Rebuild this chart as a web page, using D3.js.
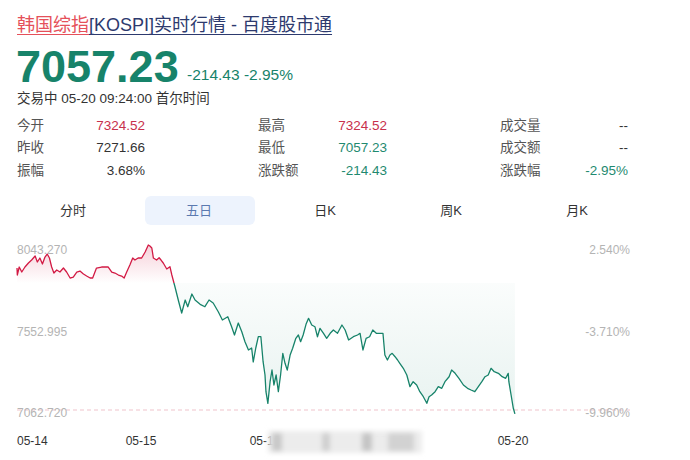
<!DOCTYPE html>
<html><head><meta charset="utf-8">
<script src="https://cdn.jsdelivr.net/npm/d3@7"></script>
<style>body{margin:0;background:#fff}svg{display:block}</style>
</head><body>
<svg id="c" width="690" height="460"></svg>
<script>
// ---------- data ----------
const titleRed = "韩国综指";
const titleRest = "[KOSPI]实时行情 - 百度股市通";
const lastPrice = "7057.23";
const changeText = "-214.43 -2.95%";
const statusText = "交易中 05-20 09:24:00 首尔时间";
const statLabels = [["今开","昨收","振幅"],["最高","最低","涨跌额"],["成交量","成交额","涨跌幅"]];
const statValues = [["7324.52","7271.66","3.68%"],["7324.52","7057.23","-214.43"],["--","--","-2.95%"]];
const statTone   = [["up","flat","flat"],["up","down","down"],["flat","flat","down"]];
const tabs = ["分时","五日","日K","周K","月K"];
const activeTab = 1;
const dayLabels = ["05-14","05-15","05-18","05-19","05-20"];
const priceTicks = [8043.270, 7552.995, 7062.720];
const pctTicks = ["2.540%","-3.710%","-9.960%"];
const basePrice = 7844.04;
const minutesPerDay = 390;
// minutes on a continuous 5-session axis (390 min per session)
const times = [0,1,7,15,25,36,46,57,64,72,80,88,95,102,109,116,125,135,146,156,167,177,188,198,209,219,230,238,250,266,277,287,298,308,319,329,337,345,355,364,371,381,
392,403,413,418,424,429,439,447,453,460,471,481,487,497,508,518,529,537,550,560,576,591,604,617,633,646,663,675,684,696,707,717,728,738,743,751,759,767,774,
780,783,789,796,802,808,815,822,829,836,843,850,859,867,877,885,892,900,909,917,927,937,945,953,964,974,985,995,1008,1022,1032,1043,1058,1071,1079,1088,1098,1109,1119,1130,1143,1151,
1157,1165,1173,1180,1189,1197,1204,1215,1226,1236,1246,1257,1267,1278,1289,1296,1304,1315,1325,1336,1346,1359,1367,1378,1390,1404,1417,1428,1440,1451,1462,1472,1482,1491,1501,1514,1526,1537,1545,1547,1554,1561,1566];
const prices = [7934.9,7892.8,7940.9,7910.8,7940.9,7965.0,7983.0,8007.1,7971.0,7995.0,7958.9,8001.0,8019.1,7995.0,7940.9,7904.8,7922.8,7910.8,7934.9,7910.8,7874.7,7880.7,7910.8,7916.8,7898.8,7886.8,7874.7,7874.7,7934.9,7940.9,7940.9,7940.9,7910.8,7904.8,7892.8,7886.8,7874.7,7910.8,7952.9,7995.0,7983.0,7995.0,
7995.0,8031.1,8073.2,8067.2,8055.2,7995.0,7983.0,7996.8,7983.0,7965.0,7928.9,7942.7,7892.8,7820.6,7736.4,7664.2,7742.4,7702.1,7778.5,7742.4,7716.5,7702.1,7742.4,7724.4,7672.0,7622.1,7641.9,7581.8,7531.9,7604.1,7551.7,7491.6,7441.7,7453.7,7369.5,7453.7,7521.6,7521.6,7371.3,
7291.3,7190.8,7121.0,7251.0,7321.3,7231.1,7291.3,7190.8,7291.3,7421.8,7361.6,7321.3,7411.6,7451.9,7512.0,7531.9,7491.6,7531.9,7596.2,7632.3,7592.0,7581.8,7521.6,7572.2,7542.1,7512.0,7542.1,7561.9,7542.1,7592.0,7561.9,7501.8,7521.6,7531.9,7542.1,7441.7,7512.0,7521.6,7561.9,7542.1,7542.1,7542.1,
7411.6,7381.5,7411.6,7421.8,7401.3,7381.5,7361.6,7331.6,7291.3,7220.9,7251.0,7231.1,7190.8,7160.7,7121.0,7160.7,7171.0,7190.8,7220.9,7211.3,7251.0,7281.0,7321.3,7301.5,7271.4,7231.1,7211.3,7201.0,7190.8,7220.9,7251.0,7281.0,7291.3,7331.6,7311.1,7301.5,7281.0,7271.4,7301.5,7251.0,7171.0,7091.0,7057.23];

// ---------- styles ----------
const FONT = "'Liberation Sans', Arial, 'Noto Sans CJK SC', sans-serif";
const RED = "#d21a44", GREEN = "#17836a", TEXT = "#333", LABEL = "#555";
const svg = d3.select("#c").style("font-family", FONT);

// ---------- header ----------
const t1 = svg.append("text").attr("x",17).attr("y",31).attr("font-size",18).attr("fill","#e5505a").text(titleRed);
const w1 = t1.node().getComputedTextLength();
const t2 = svg.append("text").attr("x",17+w1).attr("y",31).attr("font-size",18).attr("fill","#2d3a6e").text(titleRest);
const w2 = t2.node().getComputedTextLength();
svg.append("line").attr("x1",17).attr("x2",17+w1).attr("y1",34.5).attr("y2",34.5).attr("stroke","#e5505a").attr("stroke-width",1);
svg.append("line").attr("x1",17+w1).attr("x2",17+w1+w2).attr("y1",34.5).attr("y2",34.5).attr("stroke","#2d3a6e").attr("stroke-width",1);

svg.append("text").attr("x",16).attr("y",82).attr("font-size",45).attr("font-weight","bold").attr("fill",GREEN).text(lastPrice);
svg.append("text").attr("x",187).attr("y",80).attr("font-size",15.5).attr("fill",GREEN).text(changeText);
svg.append("text").attr("x",17).attr("y",103).attr("font-size",13.5).attr("fill",TEXT).text(statusText);

// ---------- stats table ----------
const colLabelX = [17,258,500], colValueX = [145,387,628], rowY = [130,152,175];
const toneColor = {up:"#c8304c", down:"#1f8a70", flat:TEXT};
statLabels.forEach((col,ci)=>col.forEach((lab,ri)=>{
  svg.append("text").attr("x",colLabelX[ci]).attr("y",rowY[ri]).attr("font-size",13.5).attr("fill",LABEL).text(lab);
  svg.append("text").attr("x",colValueX[ci]).attr("y",rowY[ri]).attr("font-size",13.5).attr("text-anchor","end")
     .attr("fill",toneColor[statTone[ci][ri]]).text(statValues[ci][ri]);
}));

// ---------- tabs ----------
const tabX = d3.scaleBand().domain(tabs).range([9,639]);
svg.append("rect").attr("x",tabX(tabs[activeTab])+10).attr("y",196).attr("width",tabX.bandwidth()-16).attr("height",29)
   .attr("rx",6).attr("fill","#edf3fd");
tabs.forEach((t,i)=>{
  svg.append("text").attr("x",tabX(t)+tabX.bandwidth()/2+1).attr("y",215).attr("text-anchor","middle")
    .attr("font-size",13).attr("fill", i===activeTab ? "#5b79b0" : TEXT).text(t);
});

// ---------- chart ----------
const data = times.map((t,i)=>({t, v:prices[i]}));
const x = d3.scaleLinear().domain([0, minutesPerDay*5]).range([17, 637]);
const y = d3.scaleLinear().domain([priceTicks[2], priceTicks[0]]).range([413, 250]);
const yb = y(basePrice);

const defs = svg.append("defs");
const gTop = y(priceTicks[0]) - 8, gBot = y(priceTicks[2]);
const f = (yb - gTop)/(gBot - gTop);
const fg = defs.append("linearGradient").attr("id","fillGrad").attr("gradientUnits","userSpaceOnUse")
  .attr("x1",0).attr("x2",0).attr("y1",gTop).attr("y2",gBot);
[[0,RED,0.22],[f,RED,0.0],[f,GREEN,0.02],[1,GREEN,0.1]].forEach(s=>
  fg.append("stop").attr("offset",s[0]).attr("stop-color",s[1]).attr("stop-opacity",s[2]));
const lg = defs.append("linearGradient").attr("id","lineGrad").attr("gradientUnits","userSpaceOnUse")
  .attr("x1",0).attr("x2",0).attr("y1",gTop).attr("y2",gBot);
[[0,RED],[f,RED],[f,GREEN],[1,GREEN]].forEach(s=>
  lg.append("stop").attr("offset",s[0]).attr("stop-color",s[1]));
const blur = defs.append("filter").attr("id","blur").attr("x","-20%").attr("y","-50%").attr("width","140%").attr("height","200%");
blur.append("feGaussianBlur").attr("stdDeviation",2.5);

// bottom dashed guide
svg.append("line").attr("x1",17).attr("x2",630).attr("y1",y(priceTicks[2])-3).attr("y2",y(priceTicks[2])-3)
   .attr("stroke","#efc3cb").attr("stroke-dasharray","4,3").attr("stroke-width",1);

svg.append("path").datum(data)
  .attr("d", d3.area().x(d=>x(d.t)).y0(yb).y1(d=>y(d.v)))
  .attr("fill","url(#fillGrad)");
svg.append("path").datum(data)
  .attr("d", d3.line().x(d=>x(d.t)).y(d=>y(d.v)))
  .attr("fill","none").attr("stroke","url(#lineGrad)").attr("stroke-width",1.3).attr("stroke-linejoin","round");

// axis labels
priceTicks.forEach((p,i)=>{
  svg.append("text").attr("x",17).attr("y",y(p)).attr("dy","0.35em").attr("font-size",12).attr("fill","#b4b4b4").text(p.toFixed(3));
  svg.append("text").attr("x",630).attr("y",y(p)).attr("dy","0.35em").attr("text-anchor","end").attr("font-size",12).attr("fill","#b4b4b4").text(pctTicks[i]);
});
dayLabels.forEach((d,i)=>{
  svg.append("text").attr("x", x(i*minutesPerDay)).attr("y",445).attr("text-anchor", i===0?"start":"middle")
    .attr("font-size",12).attr("fill",TEXT).text(d);
});

// blurred watermark patch
const wm = svg.append("g").attr("filter","url(#blur)");
wm.append("rect").attr("x",268).attr("y",431).attr("width",154).attr("height",22).attr("fill","#ececec");
wm.append("rect").attr("x",272).attr("y",433).attr("width",10).attr("height",18).attr("fill","#c8c8c8");
wm.append("rect").attr("x",322).attr("y",433).attr("width",8).attr("height",18).attr("fill","#cfcfcf");
wm.append("rect").attr("x",362).attr("y",433).attr("width",10).attr("height",18).attr("fill","#c4c4c4");
wm.append("rect").attr("x",388).attr("y",433).attr("width",26).attr("height",18).attr("fill","#d2d2d2");
</script>
</body></html>
